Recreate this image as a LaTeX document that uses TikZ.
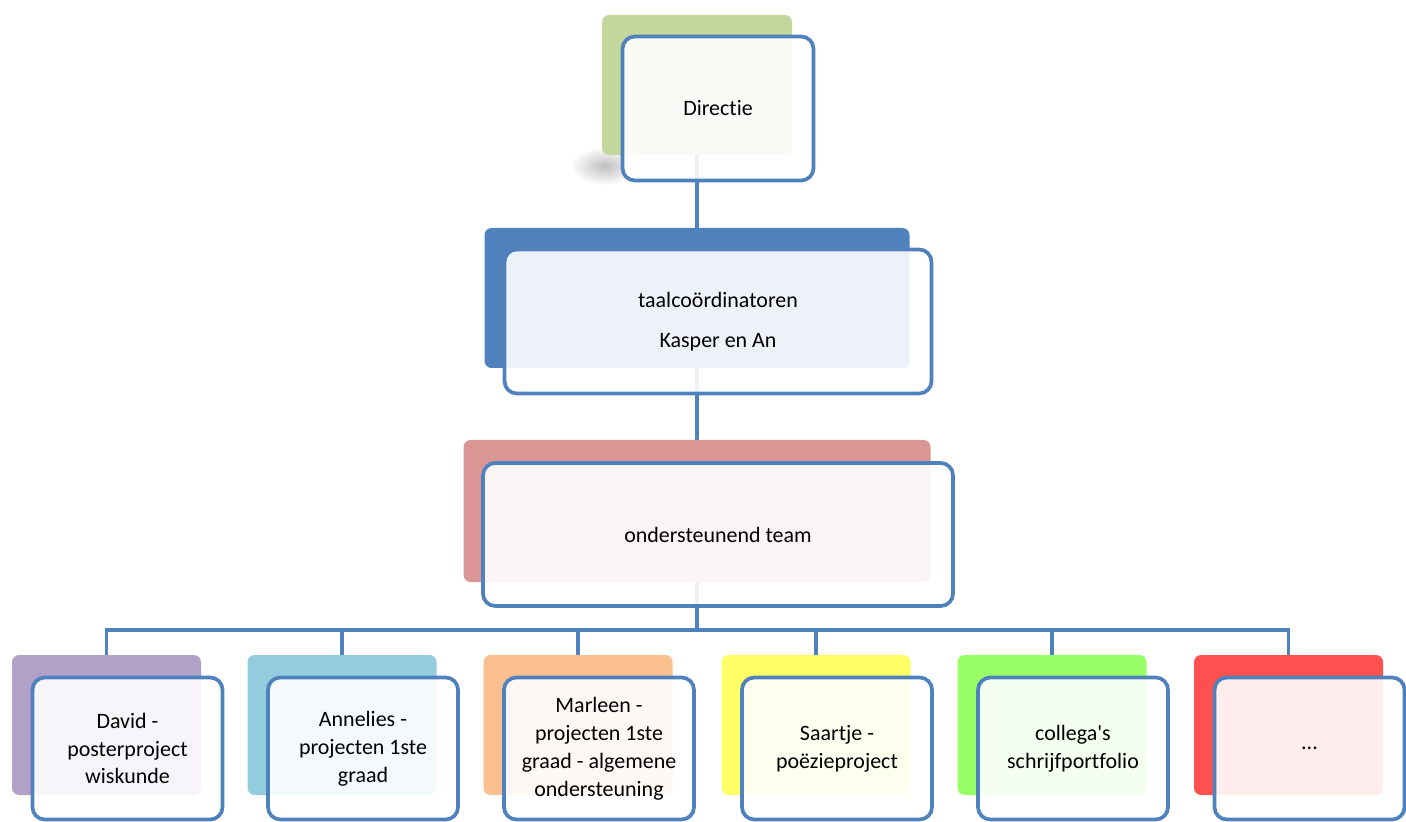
\documentclass[tikz,border=0pt]{standalone}
\usepackage{fontspec}
\setmainfont{Carlito}[Ligatures=NoCommon]
\usetikzlibrary{positioning,calc}
\usepackage{xcolor}
\definecolor{orgblue}{RGB}{79,129,189}
\definecolor{dirgreen}{RGB}{195,214,155}
\definecolor{teamred}{RGB}{217,150,148}
\definecolor{cpurple}{RGB}{178,161,199}
\definecolor{ccyan}{RGB}{147,205,221}
\definecolor{corange}{RGB}{250,192,144}
\definecolor{cyellow}{RGB}{255,255,102}
\definecolor{clime}{RGB}{153,255,102}
\definecolor{cred}{RGB}{255,80,80}
\tikzset{
    back/.style={rectangle, rounded corners=4pt, inner sep=0pt, minimum width=3.78cm, minimum height=2.8cm},
    front/.style={rectangle, rounded corners=7pt, draw=orgblue, line width=2.1pt, fill=white, fill opacity=0.9, text opacity=1,
        minimum width=3.8cm, minimum height=2.84cm, align=center, font=\fontsize{12.5}{15.9}\selectfont},
    link/.style={line width=2.1pt, draw=orgblue}
}
\begin{document}
\begin{tikzpicture}
    \useasboundingbox (0,0) rectangle (28.12,16.42);

    % soft shadow under the top box
    \shade[inner color=black!25, outer color=white] (12.1,13.1) ellipse (0.7cm and 0.38cm);

    % coloured backing shapes
    \node[back, fill=dirgreen, minimum width=3.8cm] (dirbg) at (13.94,14.72) {};
    \node[back, fill=orgblue, minimum width=8.5cm] (coordbg) at (13.94,10.46) {};
    \node[back, fill=teamred, minimum width=9.34cm, minimum height=2.84cm] (teambg) at (13.94,6.20) {};
    \node[back, fill=cpurple] (pbg1) at (2.13,1.92) {};
    \node[back, fill=ccyan] (pbg2) at (6.84,1.92) {};
    \node[back, fill=corange] (pbg3) at (11.56,1.92) {};
    \node[back, fill=cyellow] (pbg4) at (16.32,1.92) {};
    \node[back, fill=clime] (pbg5) at (21.04,1.92) {};
    \node[back, fill=cred] (pbg6) at (25.77,1.92) {};

    % hierarchy lines
    \coordinate (bus) at (13.94,3.82);
    \draw[link] (dirbg) -- (coordbg);
    \draw[link] (coordbg) -- (teambg);
    \draw[link] (teambg.south) -- (bus) -| (pbg1.north);
    \draw[link] (bus) -| (pbg2.north);
    \draw[link] (bus) -| (pbg3.north);
    \draw[link] (bus) -| (pbg4.north);
    \draw[link] (bus) -| (pbg5.north);
    \draw[link] (bus) -| (pbg6.north);

    % text boxes
    \node[front, minimum width=3.82cm, minimum height=2.88cm] (dir) at (14.36,14.25) {Directie};
    \node[front, minimum width=8.54cm, minimum height=2.88cm] (coord) at (14.36,9.99) {taalcoördinatoren\\[6.8pt]Kasper en An};
    \node[front, minimum width=9.40cm, minimum height=2.86cm] (team) at (14.36,5.73) {ondersteunend team};
    \node[front] (p1) at (2.55,1.45) {David -\\posterproject\\wiskunde};
    \node[front] (p2) at (7.26,1.45) {Annelies -\\projecten 1ste\\graad};
    \node[front] (p3) at (11.98,1.45) {Marleen -\\projecten 1ste\\graad - algemene\\ondersteuning};
    \node[front] (p4) at (16.74,1.45) {Saartje -\\poëzieproject};
    \node[front] (p5) at (21.46,1.45) {collega\textquotesingle s\\schrijfportfolio};
    \node[front] (p6) at (26.19,1.45) {...};
\end{tikzpicture}
\end{document}
